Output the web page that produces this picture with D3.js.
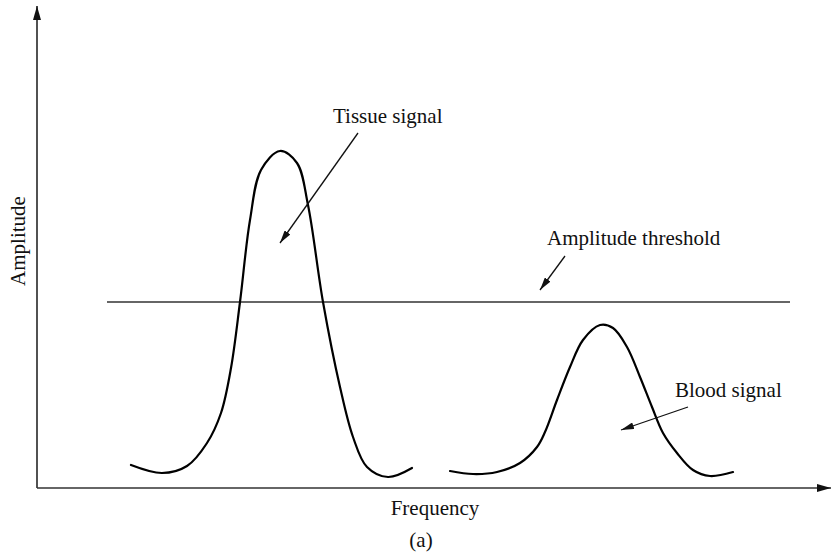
<!DOCTYPE html>
<html>
<head>
<meta charset="utf-8">
<script src="https://cdn.jsdelivr.net/npm/d3@7/dist/d3.min.js"></script>
<style>
  html, body { margin: 0; padding: 0; background: #fff; }
  text { font-family: "Liberation Serif", "Times New Roman", serif; fill: #111; }
</style>
</head>
<body>
<svg id="chart" width="833" height="555"></svg>
<script>
// Spectrum samples (arbitrary frequency units, arbitrary amplitude units)
const tissueFreq = [94, 125, 150, 170, 184, 194, 203, 213, 224, 243, 260, 271, 286, 303, 316, 330, 351, 375];
const tissueAmp  = [23, 15, 22, 45, 75, 120, 186, 268, 318, 337, 325, 283, 186, 101, 51, 21, 11, 20];

const bloodFreq = [413, 436, 460, 483, 500, 508, 520, 533, 546, 563, 576, 590, 603, 615, 626, 640, 656, 673, 696];
const bloodAmp  = [17, 14, 16, 25, 41, 56, 88, 121, 148, 163, 160, 141, 111, 81, 55, 35, 18, 12, 16];

// Amplitude threshold level and its horizontal extent
const thresholdAmp = 186;
const thresholdSpan = [70, 753];

// Text annotations with leader arrows: [text x, text y], arrow [from, to]
const noteLabels = ["Tissue signal", "Amplitude threshold", "Blood signal"];
const noteText   = [[296, 365], [510, 243], [638, 91]];
const noteFrom   = [[321, 355], [528, 232], [651, 81]];
const noteTo     = [[243, 245], [503, 198], [584, 58]];

const axisLabels = { x: "Frequency", y: "Amplitude", caption: "(a)" };

const svg = d3.select("#chart");
const x = d3.scaleLinear().domain([0, 794]).range([37, 831]);
const y = d3.scaleLinear().domain([0, 482]).range([488, 6]);

const defs = svg.append("defs");
defs.append("marker")
  .attr("id", "axisHead").attr("viewBox", "0 0 14 8")
  .attr("refX", 14).attr("refY", 4)
  .attr("markerWidth", 14).attr("markerHeight", 8)
  .attr("markerUnits", "userSpaceOnUse").attr("orient", "auto")
  .append("path").attr("d", "M0,0 L14,4 L0,8 Z").attr("fill", "#111");
defs.append("marker")
  .attr("id", "noteHead").attr("viewBox", "0 0 13 7")
  .attr("refX", 13).attr("refY", 3.5)
  .attr("markerWidth", 13).attr("markerHeight", 7)
  .attr("markerUnits", "userSpaceOnUse").attr("orient", "auto")
  .append("path").attr("d", "M0,0 L13,3.5 L0,7 Z").attr("fill", "#111");

// Axes drawn as arrows from the origin
svg.append("line")
  .attr("x1", x(0)).attr("y1", y(0)).attr("x2", x(0)).attr("y2", y(482))
  .attr("stroke", "#333").attr("stroke-width", 1.7)
  .attr("marker-end", "url(#axisHead)");
svg.append("line")
  .attr("x1", x(0)).attr("y1", y(0)).attr("x2", x(794)).attr("y2", y(0))
  .attr("stroke", "#333").attr("stroke-width", 1.7)
  .attr("marker-end", "url(#axisHead)");

// Threshold
svg.append("line")
  .attr("x1", x(thresholdSpan[0])).attr("x2", x(thresholdSpan[1]))
  .attr("y1", y(thresholdAmp)).attr("y2", y(thresholdAmp))
  .attr("stroke", "#333").attr("stroke-width", 1.7);

// Signal curves
const line = d3.line().x(d => x(d[0])).y(d => y(d[1])).curve(d3.curveCatmullRom.alpha(0.5));
const tissue = tissueFreq.map((f, i) => [f, tissueAmp[i]]);
const blood = bloodFreq.map((f, i) => [f, bloodAmp[i]]);
[tissue, blood].forEach(series => {
  svg.append("path").datum(series)
    .attr("d", line)
    .attr("fill", "none").attr("stroke", "#000")
    .attr("stroke-width", 2.2).attr("stroke-linecap", "round");
});

// Annotations
noteLabels.forEach((label, i) => {
  svg.append("text")
    .attr("x", x(noteText[i][0])).attr("y", y(noteText[i][1]))
    .attr("font-size", 21).text(label);
  svg.append("line")
    .attr("x1", x(noteFrom[i][0])).attr("y1", y(noteFrom[i][1]))
    .attr("x2", x(noteTo[i][0])).attr("y2", y(noteTo[i][1]))
    .attr("stroke", "#111").attr("stroke-width", 1.3)
    .attr("marker-end", "url(#noteHead)");
});

// Axis titles and caption
svg.append("text").attr("x", 435).attr("y", 515)
  .attr("text-anchor", "middle").attr("font-size", 21).text(axisLabels.x);
svg.append("text").attr("x", 421).attr("y", 547)
  .attr("text-anchor", "middle").attr("font-size", 21).text(axisLabels.caption);
svg.append("text")
  .attr("transform", "translate(25,241) rotate(-90)")
  .attr("text-anchor", "middle").attr("font-size", 21).text(axisLabels.y);
</script>
</body>
</html>
